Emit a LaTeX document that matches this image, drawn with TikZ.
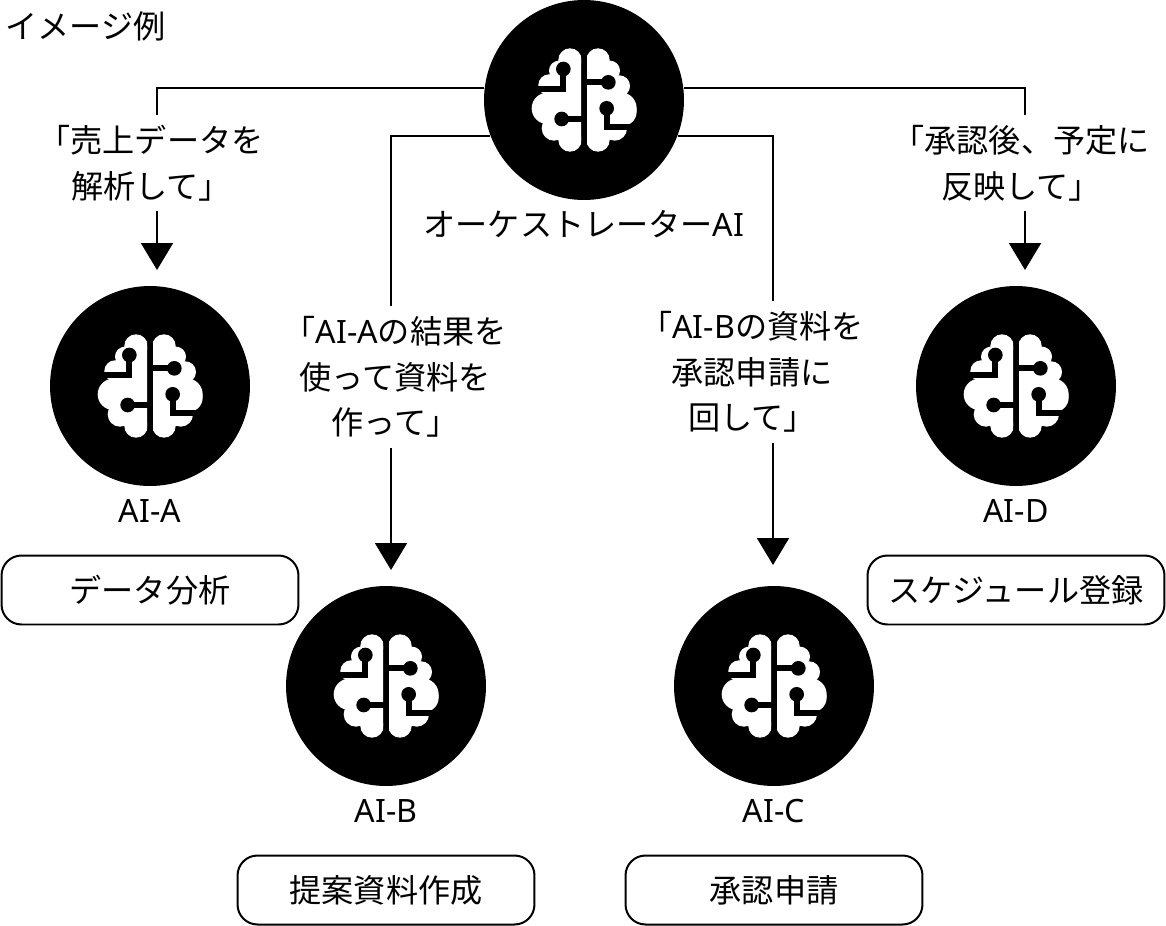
\documentclass[tikz,border=0pt]{standalone}
\usepackage{fontspec}
\setmainfont{Noto Sans CJK JP}
\newfontfamily\latinfont{Noto Sans}
\newcommand{\lat}[1]{{\latinfont #1}}
\usetikzlibrary{arrows.meta}
\tikzset{x=0.02cm,y=-0.02cm,
 agent/.style={circle,fill=black,minimum size=4cm,inner sep=0pt},
 txt/.style={font=\fontsize{18.3}{26}\selectfont,align=center,inner sep=0pt},
 order/.style={txt,inner ysep=0.2cm},
 rolebox/.style={txt,draw,line width=0.04cm,rounded corners=0.4cm,minimum width=5.94cm,minimum height=1.38cm},
 link/.style={draw,line width=0.04cm},
 arrowlink/.style={link,-{Triangle[width=0.64cm,length=0.54cm]}},
 wire/.style={line width=0.115cm},
 brain/.pic={
  \begin{scope}[scale=1/3,shift={(-300,-300)}]
   \begin{scope}
    \clip (100,100) rectangle (291,500);
    \fill[white] (225,180) -- (291,180) -- (291,420) -- (225,420) -- (200,400) -- (200,240) -- cycle;
    \foreach \cx/\cy/\r in {258/180/35,225/212/30,195/255/32,190/325/47,210/385/37,258/420/35}
     \fill[white] (\cx,\cy) circle (\r);
   \end{scope}
   \begin{scope}
    \clip (309,100) rectangle (500,500);
    \fill[white] (309,180) -- (375,180) -- (400,240) -- (420,370) -- (400,400) -- (375,420) -- (309,420) -- cycle;
    \foreach \cx/\cy/\r in {342/180/35,378/212/30,406/258/32,410/325/48,415/335/43,392/385/37,342/420/35}
     \fill[white] (\cx,\cy) circle (\r);
   \end{scope}
   \draw[wire] (238,207) -- (238,266) -- (150,266);
   \draw[wire] (233,357) -- (295,357);
   \draw[wire] (373,247) -- (305,247);
   \draw[wire] (368,325) -- (368,380) -- (460,380);
   \foreach \cx/\cy in {238/207,233/357,373/247,368/325}
    \fill (\cx,\cy) circle (22);
  \end{scope}
 },
}

\begin{document}
\begin{tikzpicture}
    \useasboundingbox (0,0) rectangle (1166,926);
    \node[txt,anchor=west] (title) at (5,26) {イメージ例};
    \node[agent] (orch) at (584,100) {};
    \pic at (orch) {brain};
    \node[txt] (orchname) at (584,224) {オーケストレーター\lat{AI}};
    \foreach \id/\x/\y/\role in {A/150/386/データ分析, B/386/686/提案資料作成, C/774/686/承認申請, D/1016/386/スケジュール登録} {
        \node[agent] (ai\id) at (\x,\y) {};
        \pic at (ai\id) {brain};
        \node[txt] (name\id) at (\x,\y + 125) {\lat{AI-\id}};
        \node[rolebox] (box\id) at (\x,\y + 204) {\raisebox{-0.04cm}{\role}};
    }
    \node[order] (orderA) at (151,163) {「売上データを\\解析して」};
    \node[order] (orderB) at (395,377) {「\lat{AI-A}の結果を\\使って資料を\\作って」};
    \node[order] (orderC) at (752,372) {「\lat{AI-B}の資料を\\承認申請に\\回して」};
    \node[order] (orderD) at (1021,163) {「承認後、予定に\\反映して」};
    \coordinate (tipA) at (157,270);
    \coordinate (tipB) at (391,570);
    \coordinate (tipC) at (773,565);
    \coordinate (tipD) at (1025,270);
    \draw[link] (orch.173) -| (orderA.north -| tipA);
    \draw[link] (orch.201.7) -| (orderB.north -| tipB);
    \draw[link] (orch.-21.7) -| (orderC.north -| tipC);
    \draw[link] (orch.7) -| (orderD.north -| tipD);
    \foreach \id in {A,B,C,D}
        \draw[arrowlink] (order\id.south -| tip\id) -- (tip\id);
\end{tikzpicture}
\end{document}
